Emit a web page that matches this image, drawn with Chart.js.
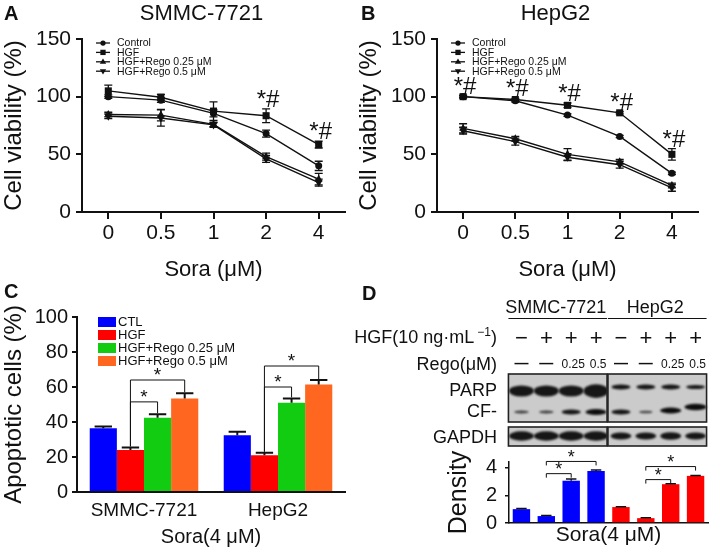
<!DOCTYPE html>
<html>
<head>
<meta charset="utf-8">
<script src="https://cdn.jsdelivr.net/npm/chart.js@4.4.1/dist/chart.umd.min.js"></script>
<style>
  body { margin: 0; background: #fff; width: 709px; height: 550px; position: relative; overflow: hidden; }
  canvas { position: absolute; }
  .letter { position: absolute; font: bold 20px "Liberation Sans", Arial, sans-serif; color: #111; }
</style>
</head>
<body>
<canvas id="chartA" width="355" height="285" style="left:0;top:0"></canvas>
<canvas id="chartB" width="354" height="285" style="left:355px;top:0"></canvas>
<canvas id="chartC" width="360" height="265" style="left:0;top:285px"></canvas>
<canvas id="chartD" width="369" height="265" style="left:340px;top:285px"></canvas>
<div class="letter" style="left:4px;top:2px">A</div>
<div class="letter" style="left:361px;top:2px">B</div>
<div class="letter" style="left:4px;top:280px">C</div>
<div class="letter" style="left:362px;top:282px">D</div>
<script>
const FONT = '"Liberation Sans", Arial, Helvetica, sans-serif';
const INK = '#111';

// --- A / B: cell viability vs sorafenib dose
const doses = ['0', '0.5', '1', '2', '4'];
const groupNames = ['Control', 'HGF', 'HGF+Rego 0.25 μM', 'HGF+Rego 0.5 μM'];
const viabilityTicks = [0, 50, 100, 150];

const smmcControl = [100, 97, 85.5, 68, 40];
const smmcHgf = [105, 99.5, 87.5, 83.5, 58.5];
const smmcRego025 = [84.5, 84, 76, 48, 28.5];
const smmcRego05 = [83, 81.5, 75.5, 46, 25.5];
const smmcControlErr = [1.5, 2, 3, 3, 4];
const smmcHgfErr = [5, 2.5, 8, 6, 3];
const smmcRego025Err = [2, 5, 2, 3, 5];
const smmcRego05Err = [2, 7, 2, 3, 3];
const smmcMarked = [3, 4];

const hepControl = [100, 96.5, 84, 65.5, 33.5];
const hepHgf = [100, 97.5, 92.5, 86, 50];
const hepRego025 = [72.5, 63.5, 50, 43.5, 23];
const hepRego05 = [70.5, 61, 47.5, 41, 21];
const hepControlErr = [1, 1, 1, 1, 1];
const hepHgfErr = [1, 1, 2, 1, 5];
const hepRego025Err = [4, 2, 5, 2, 2];
const hepRego05Err = [3, 3, 3, 3, 3];
const hepMarked = [0, 1, 2, 3, 4];

// --- C: apoptosis
const cellLines = ['SMMC-7721', 'HepG2'];
const apoNames = ['CTL', 'HGF', 'HGF+Rego 0.25 μM', 'HGF+Rego 0.5 μM'];
const apoColors = ['#0000ff', '#ff0000', '#11cc11', '#ff6620'];
const apoCtl = [36.5, 32.5];
const apoHgf = [24, 21];
const apoRego025 = [42.5, 51];
const apoRego05 = [53.5, 61.5];
const apoCtlErr = [1, 2];
const apoHgfErr = [1.5, 1.5];
const apoRego025Err = [2, 2.5];
const apoRego05Err = [3, 2.5];
// [cell line, compared group, bracket level] - always against HGF
const apoBrackets = [[0, 2, 51.5], [0, 3, 64], [1, 2, 60], [1, 3, 72]];

// --- D: western blot + cleaved PARP density
const laneHgf = ['−', '+', '+', '+', '−', '+', '+', '+'];
const laneRego = ['—', '—', '0.25', '0.5', '—', '—', '0.25', '0.5'];
const densitySmmc = [1.0, 0.5, 3.05, 3.75];
const densityHep = [1.15, 0.35, 2.8, 3.4];
const densitySmmcErr = [0.05, 0.04, 0.12, 0.08];
const densityHepErr = [0.02, 0.02, 0.04, 0.03];
const densityBrackets = [[1, 2, 3.56], [1, 3, 4.44], [5, 6, 3.13], [5, 7, 4.07]];
// relative band strength per lane
const parpBand = [1, 1, 1, 1.25, 0.45, 0.45, 0.45, 0.38];
const cfBand = [0.3, 0.3, 0.5, 0.6, 0.5, 0.25, 0.6, 0.65];
const gapdhBand = [0.85, 0.85, 0.85, 0.85, 0.65, 0.65, 0.7, 0.65];

Chart.defaults.font.family = FONT;
Chart.defaults.color = INK;
Chart.defaults.animation = false;
Chart.defaults.plugins.legend.display = false;
Chart.defaults.plugins.tooltip.enabled = false;

function marker(ctx, style, rot, r, x, y) {
  ctx.beginPath();
  if (style === 'circle') {
    ctx.arc(x, y, r, 0, Math.PI * 2);
  } else if (style === 'rect') {
    const s = r * Math.SQRT1_2;
    ctx.rect(x - s, y - s, 2 * s, 2 * s);
  } else {
    const d = rot ? -1 : 1;
    ctx.moveTo(x, y - d * r);
    ctx.lineTo(x + r * 0.95, y + d * r * 0.6);
    ctx.lineTo(x - r * 0.95, y + d * r * 0.6);
    ctx.closePath();
  }
  ctx.fill();
}

// error bars, *# marks and the small legend of the viability plots
const viabilityExtras = {
  id: 'viabilityExtras',
  afterDatasetsDraw(chart, args, opts) {
    const { ctx, chartArea, scales: { y } } = chart;
    ctx.save();
    ctx.strokeStyle = INK;
    ctx.fillStyle = INK;
    ctx.lineWidth = 1.3;
    chart.data.datasets.forEach((ds, di) => {
      const meta = chart.getDatasetMeta(di);
      ds.errors.forEach((e, i) => {
        const x = meta.data[i].x;
        const top = y.getPixelForValue(ds.data[i] + e);
        const bot = y.getPixelForValue(ds.data[i] - e);
        ctx.beginPath();
        ctx.moveTo(x, top); ctx.lineTo(x, bot);
        ctx.moveTo(x - 4, top); ctx.lineTo(x + 4, top);
        ctx.moveTo(x - 4, bot); ctx.lineTo(x + 4, bot);
        ctx.stroke();
      });
    });

    const hgf = chart.data.datasets[1];
    const hm = chart.getDatasetMeta(1);
    ctx.font = `24px ${FONT}`;
    ctx.textAlign = 'center';
    ctx.textBaseline = 'alphabetic';
    opts.marked.forEach(i => {
      ctx.fillText('*#', hm.data[i].x + 2, y.getPixelForValue(hgf.data[i] + hgf.errors[i]) - 2);
    });

    // title
    ctx.font = `22px ${FONT}`;
    ctx.textBaseline = 'middle';
    ctx.fillText(opts.title, (chartArea.left + chartArea.right) / 2 - 12, 14);

    // legend
    ctx.font = `10.5px ${FONT}`;
    ctx.textAlign = 'left';
    chart.data.datasets.forEach((ds, di) => {
      const ly = chartArea.top + 4 + di * 9.4;
      ctx.beginPath();
      ctx.moveTo(chartArea.left + 14, ly);
      ctx.lineTo(chartArea.left + 28, ly);
      ctx.stroke();
      marker(ctx, ds.pointStyle, ds.pointRotation, ds.pointRadius * 0.75, chartArea.left + 21, ly);
      ctx.fillText(ds.label, chartArea.left + 35, ly + 0.5);
    });
    ctx.restore();
  }
};

function viabilityChart(id, title, series, errors, marked, rightPad) {
  const styles = [['circle', 0, 3.5], ['rect', 0, 5], ['triangle', 0, 4.5], ['triangle', 180, 4.5]];
  return new Chart(document.getElementById(id), {
    type: 'line',
    data: {
      labels: doses,
      datasets: series.map((d, i) => ({
        label: groupNames[i],
        data: d,
        errors: errors[i],
        borderColor: INK,
        backgroundColor: INK,
        borderWidth: 1.4,
        pointStyle: styles[i][0],
        pointRotation: styles[i][1],
        pointRadius: styles[i][2],
        pointBorderWidth: 0,
        tension: 0,
      })),
    },
    options: {
      responsive: false,
      layout: { padding: { top: 39, right: rightPad, left: 0, bottom: 0 } },
      plugins: { viabilityExtras: { marked, title } },
      scales: {
        x: {
          offset: true,
          grid: { offset: false, drawOnChartArea: false, tickLength: 7, color: INK, lineWidth: 2 },
          border: { color: INK, width: 2 },
          ticks: { font: { size: 21 }, color: INK, padding: 2 },
          title: { display: true, text: 'Sora (μM)', font: { size: 22 }, color: INK, padding: { top: 0, bottom: 2 } },
          afterFit: (s) => { s.height = 73; },
        },
        y: {
          min: 0,
          max: 150,
          afterBuildTicks: (s) => { s.ticks = viabilityTicks.map(v => ({ value: v })); },
          grid: { drawOnChartArea: false, tickLength: 6, color: INK, lineWidth: 2 },
          border: { color: INK, width: 2 },
          ticks: { font: { size: 21 }, color: INK, padding: 5 },
          title: { display: true, text: 'Cell viability (%)', font: { size: 24 }, color: INK, padding: { top: 0 } },
          afterFit: (s) => { s.width = 82; },
        },
      },
    },
    plugins: [viabilityExtras],
  });
}

viabilityChart('chartA', 'SMMC-7721',
  [smmcControl, smmcHgf, smmcRego025, smmcRego05],
  [smmcControlErr, smmcHgfErr, smmcRego025Err, smmcRego05Err], smmcMarked, 10);
viabilityChart('chartB', 'HepG2',
  [hepControl, hepHgf, hepRego025, hepRego05],
  [hepControlErr, hepHgfErr, hepRego025Err, hepRego05Err], hepMarked, 11);

function star(ctx, x, lineY, size) {
  ctx.font = `${size}px ${FONT}`;
  ctx.textAlign = 'center';
  ctx.textBaseline = 'alphabetic';
  ctx.fillText('*', x, lineY + size * 0.3);
}

// error caps, significance brackets and legend of the apoptosis bars
const apoptosisExtras = {
  id: 'apoptosisExtras',
  afterDatasetsDraw(chart) {
    const { ctx, chartArea, scales: { y } } = chart;
    ctx.save();
    ctx.strokeStyle = INK;
    ctx.fillStyle = INK;
    ctx.lineWidth = 2;
    const capTop = (di, i) => y.getPixelForValue(chart.data.datasets[di].data[i] + chart.data.datasets[di].errors[i]);
    chart.data.datasets.forEach((ds, di) => {
      const meta = chart.getDatasetMeta(di);
      ds.errors.forEach((e, i) => {
        const bar = meta.data[i];
        const top = capTop(di, i);
        const cap = bar.width * 0.32;
        ctx.beginPath();
        ctx.moveTo(bar.x, bar.y); ctx.lineTo(bar.x, top);
        ctx.moveTo(bar.x - cap, top); ctx.lineTo(bar.x + cap, top);
        ctx.stroke();
      });
    });

    ctx.lineWidth = 1;
    apoBrackets.forEach(([g, target, level]) => {
      const x1 = chart.getDatasetMeta(1).data[g].x;
      const x2 = chart.getDatasetMeta(target).data[g].x;
      const ly = y.getPixelForValue(level);
      ctx.beginPath();
      ctx.moveTo(x1, capTop(1, g) - 1);
      ctx.lineTo(x1, ly);
      ctx.lineTo(x2, ly);
      ctx.lineTo(x2, capTop(target, g) - 1);
      ctx.stroke();
      star(ctx, (x1 + x2) / 2, ly - 5, 19);
    });

    ctx.font = `13px ${FONT}`;
    ctx.textAlign = 'left';
    ctx.textBaseline = 'middle';
    chart.data.datasets.forEach((ds, di) => {
      const ly = chartArea.top + 5 + di * 13;
      ctx.fillStyle = ds.backgroundColor;
      ctx.fillRect(chartArea.left + 21, ly - 5, 18, 10);
      ctx.fillStyle = INK;
      ctx.fillText(ds.label, chartArea.left + 41, ly + 0.5);
    });
    ctx.restore();
  }
};

new Chart(document.getElementById('chartC'), {
  type: 'bar',
  data: {
    labels: cellLines,
    datasets: [apoCtl, apoHgf, apoRego025, apoRego05].map((d, i) => ({
      label: apoNames[i],
      data: d,
      errors: [apoCtlErr, apoHgfErr, apoRego025Err, apoRego05Err][i],
      backgroundColor: apoColors[i],
      borderWidth: 0,
      categoryPercentage: 0.81,
      barPercentage: 1,
    })),
  },
  options: {
    responsive: false,
    layout: { padding: { top: 32, right: 15, left: 0, bottom: 0 } },
    scales: {
      x: {
        grid: { display: false, drawTicks: false },
        border: { color: INK, width: 2 },
        ticks: { font: { size: 19 }, color: INK, padding: 7 },
        title: { display: true, text: 'Sora(4 μM)', font: { size: 20 }, color: INK, padding: { top: 0, bottom: 1 } },
        afterFit: (s) => { s.height = 58; },
      },
      y: {
        min: 0,
        max: 100,
        ticks: { stepSize: 20, font: { size: 20 }, color: INK, padding: 4 },
        grid: { drawOnChartArea: false, tickLength: 5, color: INK, lineWidth: 2 },
        border: { color: INK, width: 2 },
        title: { display: true, text: 'Apoptotic cells (%)', font: { size: 24 }, color: INK, padding: { top: 0 } },
        afterFit: (s) => { s.width = 77; },
      },
    },
  },
  plugins: [apoptosisExtras],
});

// blot panel, lane labels, error caps and brackets of the density bars
const LBL = 157; // right edge of the row labels inside canvas D
const blotExtras = {
  id: 'blotExtras',
  afterDatasetsDraw(chart) {
    const { ctx, scales: { x, y } } = chart;
    const ds = chart.data.datasets[0];
    const meta = chart.getDatasetMeta(0);
    const lane = (i) => x.getPixelForValue(i);
    ctx.save();
    ctx.strokeStyle = INK;
    ctx.fillStyle = INK;

    // error caps
    ctx.lineWidth = 1.5;
    ds.errors.forEach((e, i) => {
      const bar = meta.data[i];
      const top = y.getPixelForValue(ds.data[i] + e);
      ctx.beginPath();
      ctx.moveTo(bar.x, bar.y); ctx.lineTo(bar.x, top);
      ctx.moveTo(bar.x - bar.width * 0.3, top); ctx.lineTo(bar.x + bar.width * 0.3, top);
      ctx.stroke();
    });

    // brackets
    ctx.lineWidth = 1;
    densityBrackets.forEach(([a, b, level]) => {
      const ly = y.getPixelForValue(level);
      ctx.beginPath();
      ctx.moveTo(lane(a), ly + 4); ctx.lineTo(lane(a), ly);
      ctx.lineTo(lane(b), ly); ctx.lineTo(lane(b), ly + 4);
      ctx.stroke();
      star(ctx, (lane(a) + lane(b)) / 2, ly - 4, 18);
    });

    // header: cell lines and treatments
    const groups = [[0, 3, 'SMMC-7721'], [4, 7, 'HepG2']];
    ctx.font = `18px ${FONT}`;
    ctx.textBaseline = 'middle';
    ctx.textAlign = 'center';
    groups.forEach(([a, b, name]) => {
      const l = lane(a) - 13, r = lane(b) + 11;
      ctx.fillText(name, (l + r) / 2 - 2, 23);
      ctx.lineWidth = 1.2;
      ctx.beginPath(); ctx.moveTo(l, 33.5); ctx.lineTo(r, 33.5); ctx.stroke();
    });

    ctx.textAlign = 'right';
    const sup = '−1', tail = ')';
    ctx.font = `12px ${FONT}`;
    const supW = ctx.measureText(sup).width;
    ctx.font = `18px ${FONT}`;
    const tailW = ctx.measureText(tail).width;
    ctx.fillText(tail, LBL, 53);
    ctx.font = `12px ${FONT}`;
    ctx.fillText(sup, LBL - tailW, 48);
    ctx.font = `18px ${FONT}`;
    ctx.fillText('HGF(10 ng·mL', LBL - tailW - supW - 3, 53);
    ctx.fillText('Rego(μM)', LBL, 80);
    ctx.fillText('PARP', LBL, 106);
    ctx.fillText('CF-', LBL, 127);
    ctx.fillText('GAPDH', LBL, 153);

    ctx.textAlign = 'center';
    laneHgf.forEach((s, i) => {
      ctx.font = `22px ${FONT}`;
      ctx.fillText(s, lane(i), 54);
    });
    laneRego.forEach((s, i) => {
      const dash = s === '—';
      ctx.font = dash ? `bold 14px ${FONT}` : `12px ${FONT}`;
      ctx.fillText(s, lane(i) + (dash ? 0 : 2), dash ? 79 : 80);
    });

    // blot boxes with bands
    groups.forEach(([a, b]) => {
      const l = lane(a) - 13, r = lane(b) + 11;
      ctx.fillStyle = '#cbcbcb';
      ctx.fillRect(l, 89, r - l, 48);
      ctx.fillRect(l, 142, r - l, 19);
      ctx.save();
      ctx.filter = 'blur(1.2px)';
      ctx.fillStyle = '#0c0c0c';
      for (let i = a; i <= b; i++) {
        const cx = lane(i);
        const small = i >= 4;
        ctx.globalAlpha = 0.95;
        ctx.beginPath();
        ctx.ellipse(cx, small ? 102 : 106, small ? 9.5 : 12.5, parpBand[i] * 5.5, 0, 0, Math.PI * 2);
        ctx.fill();
        ctx.globalAlpha = Math.min(1, 0.45 + cfBand[i]);
        ctx.beginPath();
        ctx.ellipse(cx, 127 - (i === 7 ? 5 : i === 6 ? 1.5 : 0), 4 + cfBand[i] * 11, cfBand[i] * 5, 0, 0, Math.PI * 2);
        ctx.fill();
        ctx.globalAlpha = 0.95;
        ctx.beginPath();
        ctx.ellipse(cx, 151, small ? 10.5 : 12.5, gapdhBand[i] * 5.5, 0, 0, Math.PI * 2);
        ctx.fill();
      }
      ctx.restore();
      ctx.lineWidth = 1.6;
      ctx.strokeStyle = '#222';
      ctx.strokeRect(l, 89, r - l, 48);
      ctx.strokeRect(l, 142, r - l, 19);
    });
    ctx.restore();
  }
};

new Chart(document.getElementById('chartD'), {
  type: 'bar',
  data: {
    labels: laneRego.map((r, i) => `${i < 4 ? 'SMMC-7721' : 'HepG2'} HGF${laneHgf[i]} Rego ${r}`),
    datasets: [{
      label: 'Density',
      data: densitySmmc.concat(densityHep),
      errors: densitySmmcErr.concat(densityHepErr),
      backgroundColor: densitySmmc.map(() => '#0000ff').concat(densityHep.map(() => '#ff0000')),
      borderWidth: 0,
      categoryPercentage: 0.7,
      barPercentage: 1,
    }],
  },
  options: {
    responsive: false,
    layout: { padding: { top: 177, right: 1, left: 0, bottom: 0 } },
    scales: {
      x: {
        grid: { display: false, drawTicks: false },
        border: { color: INK, width: 1.5 },
        ticks: { display: false },
        title: { display: true, text: 'Sora(4 μM)', font: { size: 21 }, color: INK, padding: { top: 0, bottom: 2 } },
        afterFit: (s) => { s.height = 27; },
      },
      y: {
        min: 0,
        max: 4.4,
        afterBuildTicks: (s) => { s.ticks = [0, 2, 4].map(v => ({ value: v })); },
        ticks: { font: { size: 20 }, color: INK, padding: 8 },
        grid: { drawOnChartArea: false, tickLength: 4, color: INK, lineWidth: 1.5 },
        border: { color: INK, width: 1.5 },
        title: { display: true, text: 'Density', font: { size: 25 }, color: INK, padding: { top: 104 } },
        afterFit: (s) => { s.width = 169; },
      },
    },
  },
  plugins: [blotExtras],
});
</script>
</body>
</html>
